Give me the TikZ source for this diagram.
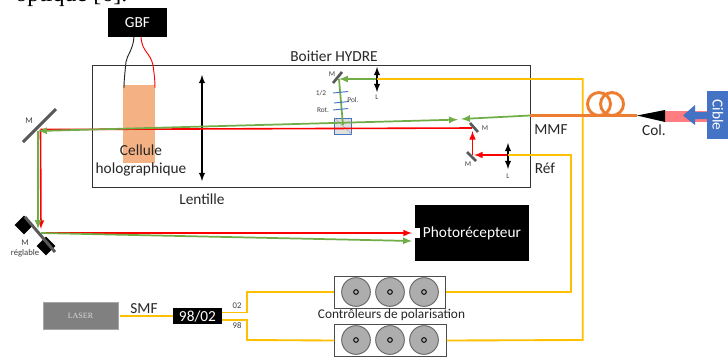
\documentclass[tikz,border=0pt]{standalone}
\usepackage{fontspec}
\setmainfont{Carlito}
\newfontfamily\seriffont{Liberation Serif}
\usetikzlibrary{arrows.meta,shapes.geometric}
\definecolor{yellowfib}{HTML}{FFC000}
\definecolor{orangefib}{HTML}{ED7D31}
\definecolor{greenbeam}{HTML}{70AD47}
\definecolor{bluecible}{HTML}{4472C4}
\definecolor{cellcol}{HTML}{F4B183}
\definecolor{pinkbeam}{HTML}{FF7C80}
\tikzset{
  fibre/.style={yellowfib,line width=1.4pt},
  redbeam/.style={red,line width=1.2pt},
  greenray/.style={greenbeam,line width=1.3pt},
  mirror/.style={draw=black!65,line width=2.2pt},
  lens/.style={line width=1.1pt,{latex[scale=0.8]}-{latex[scale=0.8]}},
  plate/.style={bluecible,line width=0.7pt},
  blackbox/.style={fill=black,text=white,inner sep=0pt},
  big label/.style={font=\fontsize{11.5}{13.5}\selectfont,text=black!85},
  tiny label/.style={font=\fontsize{5.5}{6.5}\selectfont,text=black!75},
  small label/.style={font=\fontsize{6.5}{7.5}\selectfont,text=black!75},
  knob/.style={circle,draw=black!60,fill=black!32,line width=0.7pt,minimum size=21.5pt,inner sep=0pt},
  knobhole/.style={circle,draw=black,line width=0.7pt,minimum size=3.5pt,inner sep=0pt},
  ctrl/.style={draw=black!70,fill=white,line width=0.7pt,minimum width=83.5pt,minimum height=24pt,inner sep=0pt},
}
\begin{document}
\begin{tikzpicture}[x=0.75pt,y=-0.75pt]
        \useasboundingbox (0,0) rectangle (728,358);
        \fill[white] (0,0) rectangle (728,358);
        \node[anchor=base west,inner sep=0pt,font=\seriffont\fontsize{18}{18}\selectfont] (titre) at (15,1){optique [6].};
        % boitier
        \node[draw=black!80,line width=0.6pt,minimum width=328.5pt,minimum height=91.5pt,inner sep=0pt] (boitier) at (311,126){};
        \node[big label] (hydre) at (334,56){Boitier HYDRE};
        % cellule et GBF
        \node[fill=cellcol,minimum width=24pt,minimum height=58.5pt,inner sep=0pt] (cell) at (139,124){};
        \node[blackbox,minimum width=44pt,minimum height=22pt,font=\fontsize{11.5}{13.5}\selectfont] (gbf) at (137.5,22.5){GBF};
        \coordinate (gbfa) at (134,37);
        \coordinate (gbfb) at (141,37);
        \coordinate (cella) at (124,88);
        \coordinate (cellb) at (155,88);
        \draw[black!85,line width=0.7pt] (gbfa) .. controls (133,50) and (127,55) .. (126,62) .. controls (125,72) and (124,80) .. (cella);
        \draw[red,line width=0.7pt] (gbfb) .. controls (142,52) and (150,52) .. (153,65) .. controls (154,72) and (155,80) .. (cellb);
        \node[big label,align=center] (celltxt) at (141,160){Cellule\\holographique};
        % lentille
        \coordinate (lenta) at (202,75);
        \coordinate (lentb) at (202,181);
        \draw[lens] (lenta) -- (lentb);
        \node[big label] (lentille) at (202,199){Lentille};
        % miroirs de gauche
        \coordinate (ma) at (23,142);
        \coordinate (mb) at (56,109);
        \draw[mirror] (ma) -- (mb);
        \node[small label] (mlab) at (29,121){M};
        \node[fill=black,minimum size=10pt,inner sep=0pt,rotate=45] (vis1) at (24,225){};
        \node[fill=black,minimum size=10pt,inner sep=0pt,rotate=45] (vis2) at (46,246){};
        \coordinate (mc) at (25,217);
        \coordinate (md) at (55,252);
        \draw[mirror] (mc) -- (md);
        \node[small label,align=center] (mreg) at (25,248){M\\r\'eglable};
        % partie hydre
        \node[draw=bluecible,fill=black!12,line width=0.6pt,minimum width=13pt,minimum height=12pt,inner sep=0pt] (bs) at (343,126){};
        \draw[black!35,line width=0.4pt] (bs.north west) -- (bs.south east);
        % faisceaux
        \coordinate (s1) at (40.5,129.5);
        \coordinate (s2) at (41,233);
        \coordinate (g1) at (38,131);
        \coordinate (g2) at (38,233);
        \coordinate (cube) at (343,125);
        \coordinate (m3) at (472,128);
        \coordinate (m4) at (472.5,155);
        \coordinate (mmf) at (530,115.5);
        \draw[redbeam,-{latex[scale=0.6]}] (s1) -- (41,229);
        \draw[greenray,-{latex[scale=0.6]}] (g1) -- (38,229);
        \draw[redbeam] (m3) -- (s1);
        \draw[greenray,{latex[scale=0.6]}-{latex[scale=0.6]}] (g1) -- (458,119.6);
        \draw[greenray,-{latex[scale=0.6]}] (mmf) -- (461,119);
        \draw[redbeam,-{latex[scale=0.6]}] (m4) -- (472.5,131);
        \draw[redbeam,-{latex[scale=0.6]}] (s2) -- (412,233);
        \draw[greenray,-{latex[scale=0.6]}] (s2) -- (412,241);
        \coordinate (m5) at (339,79);
        \coordinate (l1) at (377,79);
        \draw[greenray,-{latex[scale=0.6]}] (l1) -- (m5);
        \draw[greenray] (m5) -- (cube);
        \draw[mirror,line width=2pt] (333,83) -- (342,72);
        \foreach \px/\py in {333/93,334/103,333/110}
          \draw[plate] (\px,\py) -- (\px+15,\py-1.5);
        \node[tiny label] (lam) at (321,93){1/2};
        \node[tiny label] (pol) at (353,100){Pol.};
        \node[tiny label] (rot) at (323,110){Rot.};
        \node[tiny label] (mh) at (332,74){M};
        \draw[lens] (377,67) -- (377,92);
        \node[tiny label] (lh) at (377,97){L};
        % bras de reference
        \coordinate (l2) at (508,155);
        \draw[mirror,line width=2pt] (470,123) -- (478,132);
        \draw[mirror,line width=2pt] (467,152) -- (476,161);
        \draw[redbeam,-{latex[scale=0.6]}] (l2) -- (474,155);
        \draw[lens] (508,143) -- (508,169);
        \node[tiny label] (m3lab) at (485,128){M};
        \node[tiny label] (m4lab) at (468,164){M};
        \node[tiny label] (l2lab) at (508,176){L};
        \node[big label] (reflab) at (545,168){R\'ef};
        % photorecepteur
        \node[blackbox,minimum width=85.5pt,minimum height=42pt,font=\fontsize{11.5}{13.5}\selectfont] (photo) at (472,233){Photor\'ecepteur};
        \fill[white] (415,228) rectangle (419.5,238);
        % controleurs
        \node[ctrl] (ctrla) at (390,292){};
        \node[ctrl] (ctrlb) at (390.5,340.5){};
        \foreach \kx in {356,390,424}{
          \node[knob] (k\kx a) at (\kx,292){};
          \node[knobhole] at (\kx,292){};
          \node[knob] (k\kx b) at (\kx,340){};
          \node[knobhole] at (\kx,340){};
        }
        \node[font=\fontsize{10}{12}\selectfont,text=black!85] (ctrltxt) at (391.5,315){Contr\^oleurs de polarisation};
        % laser et coupleur
        \node[fill=black!50,draw=black!35,line width=0.5pt,minimum width=56pt,minimum height=20pt,text=white!85!black,inner sep=0pt,font=\seriffont\fontsize{6}{7}\selectfont] (laser) at (80.5,316){LASER};
        \node[blackbox,minimum width=36.5pt,minimum height=12pt,font=\fontsize{11.5}{13.5}\selectfont] (coupl) at (197.5,316){98/02};
        \node[big label] (smf) at (144,309){SMF};
        \node[small label] (o2) at (237,306){02};
        \node[small label] (n8) at (237,326){98};
        \draw[fibre] (120,316) -- (coupl.west);
        \draw[fibre] (222,312.5) -- (247,312.5) -- (247,292) -- (ctrla.west);
        \draw[fibre] (222,320) -- (247,320) -- (247,340) -- (ctrlb.west);
        \draw[fibre] (ctrla.east) -- (570.7,292) -- (570.7,155) -- (l2);
        \draw[fibre] (ctrlb.east) -- (582.7,340) -- (582.7,79) -- (l1);
        % fibre MMF et cible
        \coordinate (colt) at (637,115.5);
        \draw[orangefib,line width=2.2pt] (599,104) circle (11.5);
        \draw[orangefib,line width=2.2pt] (612,104) circle (11.5);
        \draw[orangefib,line width=2.2pt] (mmf) -- (colt);
        \node[big label] (mmflab) at (551,130){MMF};
        \node[big label] (collab) at (654,130){Col.};
        \fill[pinkbeam] (665,111) rectangle (707,122);
        \fill[black] (colt) -- (665,110) -- (665,122) -- cycle;
        \node[fill=bluecible,text=white,rotate=-90,minimum width=36.5pt,minimum height=16pt,inner sep=0pt,font=\fontsize{11.5}{13.5}\selectfont] (cible) at (718,115){Cible};
        \fill[bluecible] (707,112) -- (695,112) -- (695,105) -- (683,115.5) -- (695,125) -- (695,119) -- (707,119) -- cycle;
    \end{tikzpicture}
\end{document}
